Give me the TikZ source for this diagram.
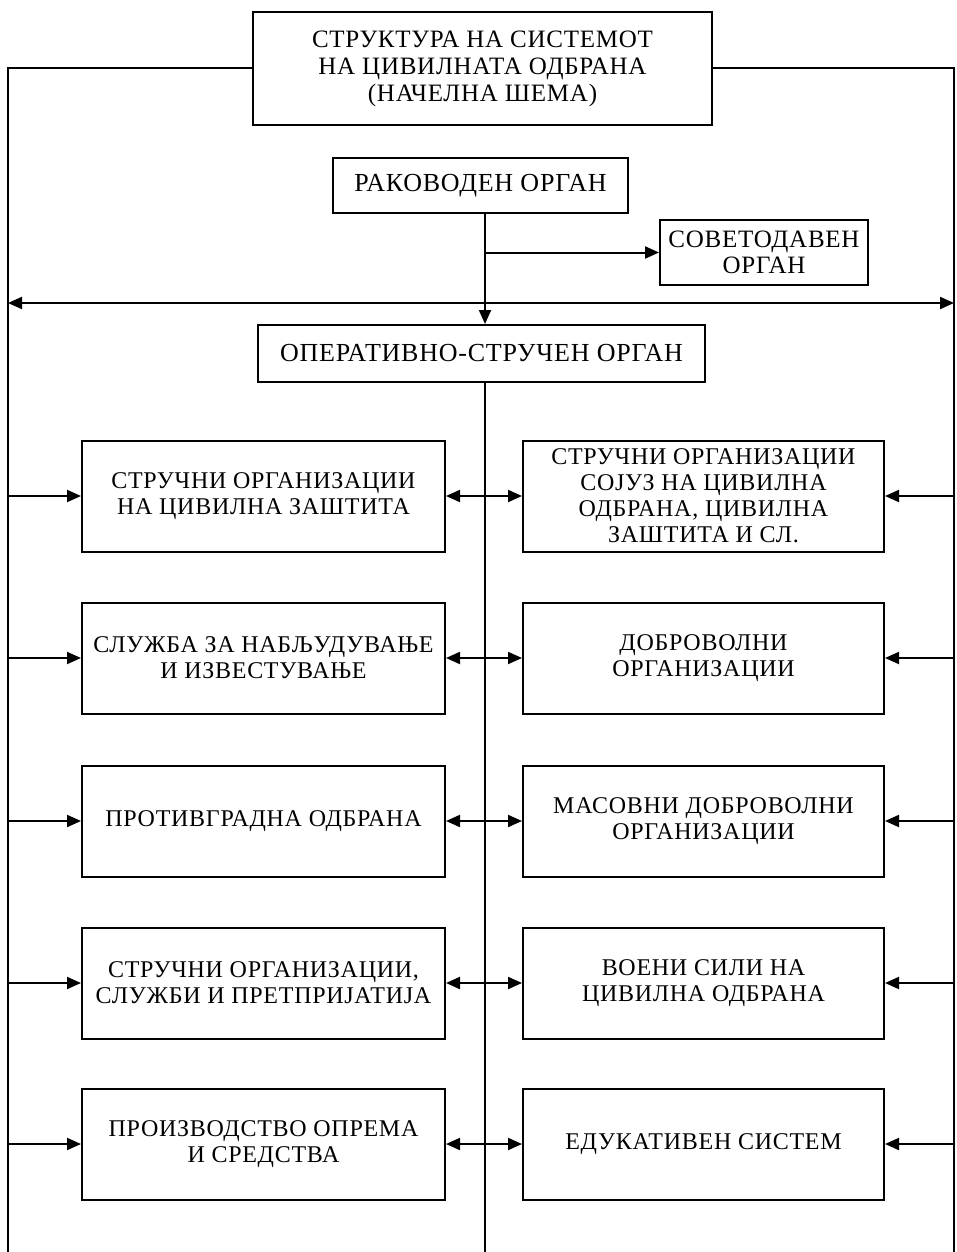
\documentclass[tikz,border=0pt]{standalone}
\usepackage{fontspec}
\setmainfont{Liberation Serif}[LetterSpace=3]
\usetikzlibrary{arrows.meta,positioning,calc}

\begin{document}
\begin{tikzpicture}[
    x=1pt, y=-1pt,
    >={Triangle[length=14pt,width=12pt]},
    orgbox/.style={draw, line width=2pt, align=center, inner sep=0pt, font=\fontsize{24}{26}\selectfont},
    leftorg/.style={orgbox, minimum width=363pt, minimum height=111pt},
    rightorg/.style={orgbox, minimum width=361pt, minimum height=111pt},
    link/.style={line width=2pt},
    arrowlink/.style={->, line width=2pt}
]
\useasboundingbox (0,0) rectangle (956,1252);

% Rails and trunk
\coordinate (lrail) at (8,1252);
\coordinate (rrail) at (954,1252);
\coordinate (trunk) at (485,1252);
\coordinate (hub) at (485,303);

% ==================== TOP LEVEL ====================
\node[orgbox, font=\fontsize{25}{27}\selectfont, minimum width=459pt, minimum height=113pt] (title) at (482.5,68.5) {СТРУКТУРА НА СИСТЕМОТ\\НА ЦИВИЛНАТА ОДБРАНА\\(НАЧЕЛНА ШЕМА)};
\node[orgbox, font=\fontsize{26}{26}\selectfont, minimum width=295pt, minimum height=55pt] (lead) at (480.5,185.5) {РАКОВОДЕН ОРГАН};
\node[orgbox, font=\fontsize{25}{26}\selectfont, minimum width=208pt, minimum height=65pt] (advice) at (764,252.5) {СОВЕТОДАВЕН\\ОРГАН};
\node[orgbox, font=\fontsize{26}{26}\selectfont, minimum width=447pt, minimum height=57pt] (oper) at (481.5,353.5) {ОПЕРАТИВНО-СТРУЧЕН ОРГАН};

% ==================== LEFT COLUMN ====================
\node[leftorg] (l1) at (263.5,496) {СТРУЧНИ ОРГАНИЗАЦИИ\\НА ЦИВИЛНА ЗАШТИТА};
\node[leftorg] (l2) at (263.5,658) {СЛУЖБА ЗА НАБЉУДУВАЊЕ\\И ИЗВЕСТУВАЊЕ};
\node[leftorg] (l3) at (263.5,821) {ПРОТИВГРАДНА ОДБРАНА};
\node[leftorg] (l4) at (263.5,983) {СТРУЧНИ ОРГАНИЗАЦИИ,\\СЛУЖБИ И ПРЕТПРИЈАТИЈА};
\node[leftorg] (l5) at (263.5,1144) {ПРОИЗВОДСТВО ОПРЕМА\\И СРЕДСТВА};

% ==================== RIGHT COLUMN ====================
\node[rightorg] (r1) at (703.5,496) {СТРУЧНИ ОРГАНИЗАЦИИ\\СОЈУЗ НА ЦИВИЛНА\\ОДБРАНА, ЦИВИЛНА\\ЗАШТИТА И СЛ.};
\node[rightorg] (r2) at (703.5,658) {ДОБРОВОЛНИ\\ОРГАНИЗАЦИИ};
\node[rightorg] (r3) at (703.5,821) {МАСОВНИ ДОБРОВОЛНИ\\ОРГАНИЗАЦИИ};
\node[rightorg] (r4) at (703.5,983) {ВОЕНИ СИЛИ НА\\ЦИВИЛНА ОДБРАНА};
\node[rightorg] (r5) at (703.5,1144) {ЕДУКАТИВЕН СИСТЕМ};

% ==================== CONNECTIONS ====================
\draw[link] (title.west) -| (lrail);
\draw[link] (title.east) -| (rrail);
\draw[arrowlink] (lead.south -| hub) -- (oper.north -| hub);
\draw[arrowlink] (advice.west -| hub) -- (advice.west);
\draw[<->, link] (hub -| lrail) -- (hub -| rrail);
\draw[link] (oper.south -| trunk) -- (trunk);

\foreach \i in {1,...,5} {
  \draw[arrowlink] (l\i.west -| lrail) -- (l\i.west);
  \draw[<->, link] (l\i.east) -- (r\i.west);
  \draw[arrowlink] (r\i.east -| rrail) -- (r\i.east);
}

\end{tikzpicture}
\end{document}
